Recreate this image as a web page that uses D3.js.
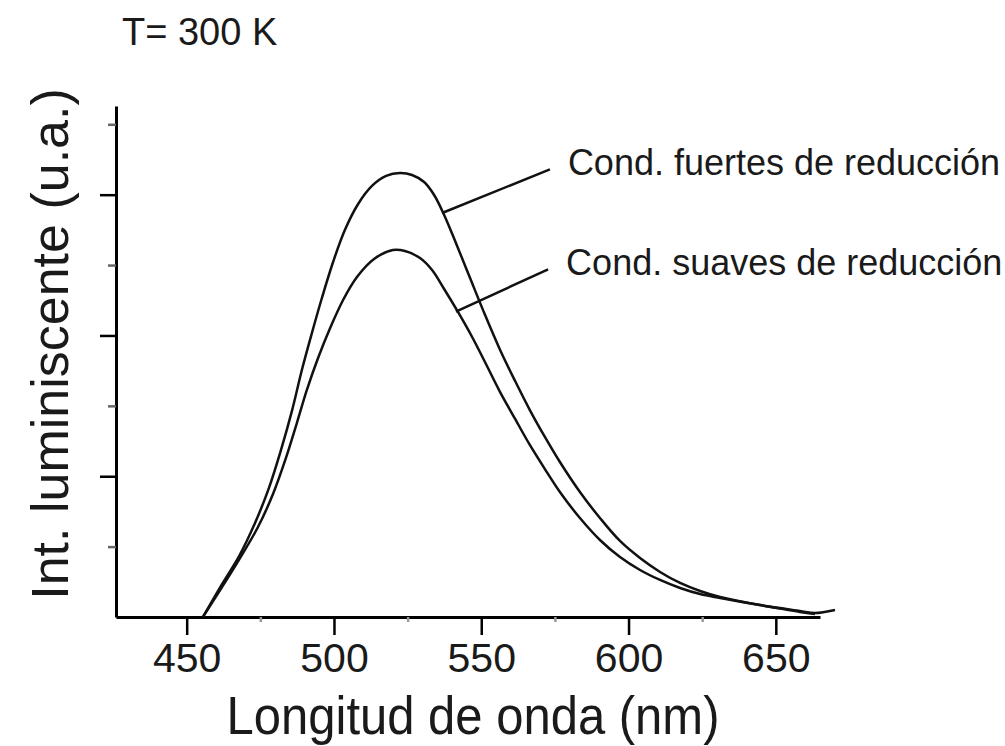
<!DOCTYPE html>
<html>
<head>
<meta charset="utf-8">
<script src="https://cdn.jsdelivr.net/npm/d3@7"></script>
<style>
  body { margin: 0; background: #fff; }
  text { font-family: "Liberation Sans", Arial, sans-serif; fill: #1a1a1a; }
</style>
</head>
<body>
<svg id="chart" width="1005" height="746"></svg>
<script>
// wavelength (nm) and intensity (a.u.)
const strongWl = [455.5, 461.6, 467.8, 473.2, 477.9, 482.0, 485.8, 489.1, 492.5, 495.9, 499.7, 503.7, 508.2, 512.9, 517.7, 522.4, 526.5, 530.6, 534.0, 537.4, 541.4, 546.2, 551.3, 556.4, 561.5, 566.5, 571.6, 576.7, 583.5, 590.3, 597.1, 603.9, 610.7, 617.5, 624.3, 631.1, 644.6, 658.2, 663.3, 670.1];
const strongI  = [0, 0.22, 0.433, 0.668, 0.916, 1.186, 1.47, 1.755, 2.017, 2.266, 2.522, 2.749, 2.934, 3.062, 3.133, 3.154, 3.14, 3.09, 2.998, 2.856, 2.657, 2.408, 2.145, 1.897, 1.676, 1.47, 1.279, 1.101, 0.888, 0.703, 0.54, 0.419, 0.32, 0.242, 0.185, 0.142, 0.085, 0.043, 0.028, 0.05];

const mildWl = [455.5, 462.0, 468.1, 474.2, 479.3, 483.7, 487.4, 490.8, 494.6, 498.7, 503.1, 507.8, 513.6, 520.0, 524.1, 529.2, 533.3, 537.4, 542.1, 546.9, 551.6, 556.4, 561.5, 566.5, 571.6, 576.7, 583.5, 590.3, 597.1, 603.9, 610.7, 617.5, 624.3, 631.1, 644.6, 658.2, 663.3];
const mildI  = [0, 0.213, 0.419, 0.639, 0.874, 1.13, 1.378, 1.613, 1.84, 2.053, 2.252, 2.415, 2.543, 2.607, 2.6, 2.55, 2.465, 2.33, 2.167, 1.989, 1.797, 1.598, 1.407, 1.222, 1.051, 0.888, 0.703, 0.547, 0.426, 0.334, 0.263, 0.206, 0.163, 0.135, 0.085, 0.036, 0.021];

const xMajor = [450, 500, 550, 600, 650];
const xMinor = [475, 525, 575, 625];
const yMajor = [1, 2, 3];
const yMinor = [0.5, 1.5, 2.5, 3.5];

const seriesNames = ["Cond. fuertes de reducción", "Cond. suaves de reducción"];
// leader line: [wl on curve, I on curve, wl at label, I at label]
const leaders = [[536.7, 2.87, 573.3, 3.18], [541.4, 2.17, 572.7, 2.47]];

const svg = d3.select("#chart");
const margin = { left: 116, top: 106, right: 185, bottom: 129 };
const width = 1005 - margin.left - margin.right,
      height = 746 - margin.top - margin.bottom;

const x = d3.scaleLinear().domain([426, 665]).range([margin.left, margin.left + width]);
const y = d3.scaleLinear().domain([0, 3.63]).range([margin.top + height, margin.top]);

const line = d3.line()
  .x(d => x(d[0]))
  .y(d => y(d[1]))
  .curve(d3.curveCatmullRom.alpha(0.5));

// axes
const xAxis = svg.append("g").attr("transform", "translate(0," + y(0) + ")");
xAxis.call(d3.axisBottom(x).tickValues(xMajor).tickSize(18).tickPadding(8).tickSizeOuter(0));
xAxis.append("g").call(d3.axisBottom(x).tickValues(xMinor).tickSize(5).tickFormat(""))
  .call(g => g.select(".domain").remove())
  .selectAll(".tick line").attr("stroke", "#999");
xAxis.selectAll("path.domain").attr("stroke-width", 3);
xAxis.selectAll(".tick line").attr("stroke-width", 2.5);
xAxis.selectAll(".tick text")
  .attr("font-family", "Liberation Sans, Arial, sans-serif")
  .attr("fill", "#1a1a1a")
  .style("font-size", "41px");

const yAxis = svg.append("g").attr("transform", "translate(" + x(426) + ",0)");
yAxis.call(d3.axisLeft(y).tickValues(yMajor).tickSize(16).tickFormat("").tickSizeOuter(0));
yAxis.append("g").call(d3.axisLeft(y).tickValues(yMinor).tickSize(8).tickFormat(""))
  .call(g => g.select(".domain").remove())
  .selectAll(".tick line").attr("stroke", "#666");
yAxis.selectAll("path.domain").attr("stroke-width", 3);
yAxis.selectAll(".tick line").attr("stroke-width", 2.5);

// curves
svg.append("path")
  .datum(d3.zip(strongWl, strongI))
  .attr("fill", "none").attr("stroke", "#111").attr("stroke-width", 2.5)
  .attr("d", line);
svg.append("path")
  .datum(d3.zip(mildWl, mildI))
  .attr("fill", "none").attr("stroke", "#111").attr("stroke-width", 2.5)
  .attr("d", line);

// leader lines and labels
leaders.forEach(function(l, i) {
  svg.append("line")
    .attr("x1", x(l[0])).attr("y1", y(l[1]))
    .attr("x2", x(l[2])).attr("y2", y(l[3]))
    .attr("stroke", "#111").attr("stroke-width", 2.5);
  svg.append("text")
    .attr("x", x(l[2]) + 18).attr("y", y(l[3]) + 6)
    .style("font-size", "36px")
    .text(seriesNames[i]);
});

// titles
svg.append("text").attr("x", 122).attr("y", 45).style("font-size", "38px").text("T= 300 K");

svg.append("text")
  .attr("transform", "translate(" + ((x(426) + x(665)) / 2 + 5) + ",734) scale(1,1.08)")
  .attr("text-anchor", "middle").style("font-size", "49px")
  .text("Longitud de onda (nm)");

svg.append("text")
  .attr("transform", "translate(68,344) rotate(-90)")
  .attr("text-anchor", "middle").style("font-size", "52px")
  .text("Int. luminiscente (u.a.)");
</script>
</body>
</html>
